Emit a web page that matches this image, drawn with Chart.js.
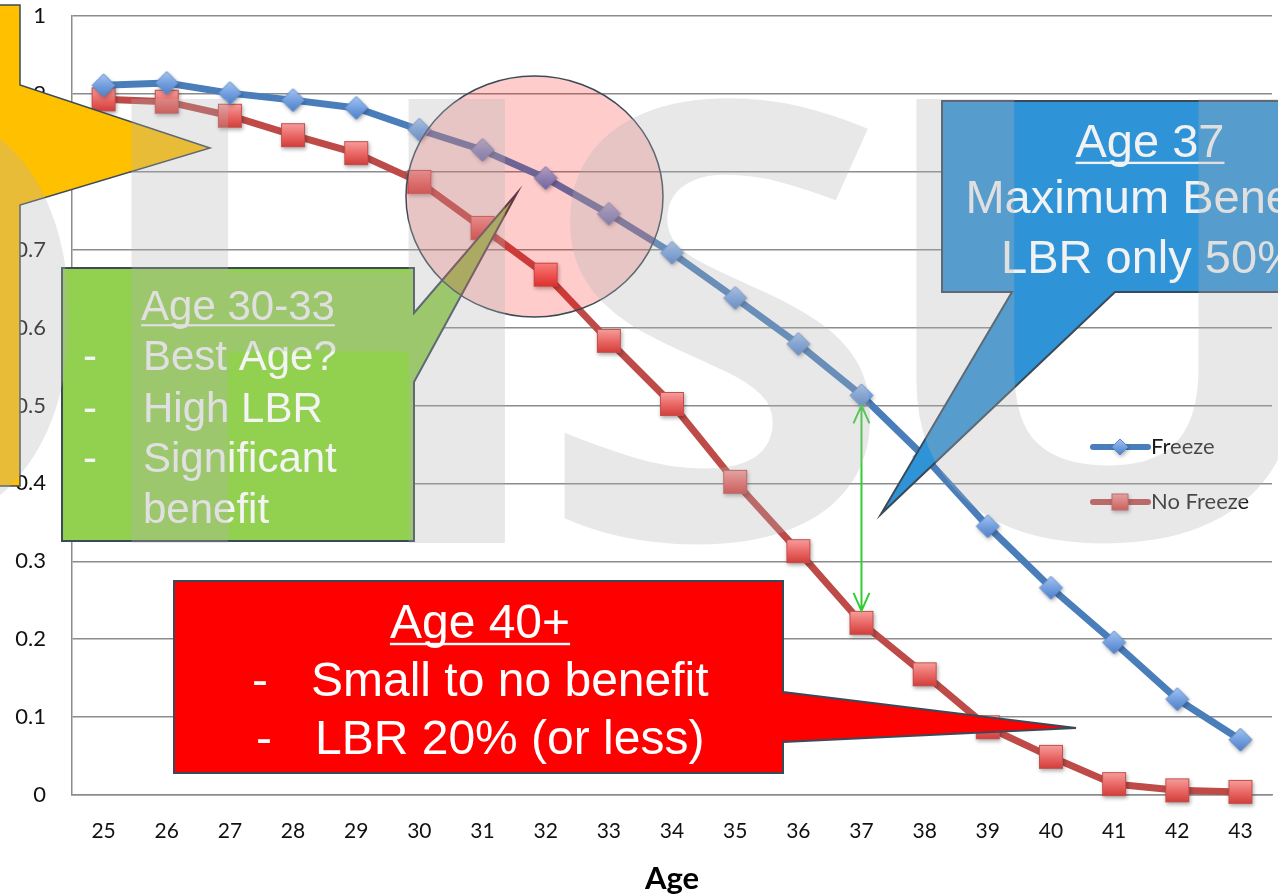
<!DOCTYPE html>
<html>
<head>
<meta charset="utf-8">
<title>Live birth rate by age</title>
<script src="https://cdn.jsdelivr.net/npm/chart.js@4/dist/chart.umd.min.js"></script>
<style>
  html, body { margin: 0; padding: 0; background: #ffffff; }
  canvas { display: block; }
</style>
</head>
<body>
<canvas id="chart" width="1278" height="894"></canvas>
<script>
// ---- data ----
const ages = ['25', '26', '27', '28', '29', '30', '31', '32', '33', '34',
              '35', '36', '37', '38', '39', '40', '41', '42', '43'];
const freeze = [0.911, 0.914, 0.901, 0.892, 0.882, 0.854, 0.828, 0.792, 0.746, 0.696,
                0.638, 0.579, 0.513, 0.434, 0.345, 0.266, 0.196, 0.123, 0.071];
const noFreeze = [0.893, 0.890, 0.872, 0.847, 0.824, 0.787, 0.728, 0.668, 0.583, 0.502,
                  0.402, 0.313, 0.221, 0.155, 0.087, 0.049, 0.014, 0.006, 0.004];
const yTickLabels = ['0', '0.1', '0.2', '0.3', '0.4', '0.5', '0.6', '0.7', '0.8', '0.9', '1'];
const seriesNames = ['Freeze', 'No Freeze'];
const highlightAge = '37';

// ---- styles ----
const BLUE = '#4a7ebb';
const RED = '#be4b48';
const GRID = '#8c8c8c';
const EDGE = '#3b4a58';
const SANS = '"Liberation Sans", Arial, sans-serif';
const AXIS_FONT = 'Lato, "Open Sans", sans-serif';

// Marker sprites with a soft drop shadow and a vertical gradient fill
function makeDiamond(r) {
  const s = Math.ceil(r * 2 + 12);
  const c = document.createElement('canvas');
  c.width = s; c.height = s;
  const g = c.getContext('2d');
  const cx = s / 2, cy = s / 2;
  g.shadowColor = 'rgba(0,0,0,0.35)';
  g.shadowBlur = 4; g.shadowOffsetX = 1; g.shadowOffsetY = 2;
  const grad = g.createLinearGradient(0, cy - r, 0, cy + r);
  grad.addColorStop(0, '#a5c4f2');
  grad.addColorStop(0.5, '#74a0e0');
  grad.addColorStop(1, '#4f7fc8');
  g.beginPath();
  g.moveTo(cx, cy - r); g.lineTo(cx + r, cy); g.lineTo(cx, cy + r); g.lineTo(cx - r, cy);
  g.closePath();
  g.fillStyle = grad; g.fill();
  g.shadowColor = 'transparent';
  g.lineWidth = 1; g.strokeStyle = '#5b88c8'; g.stroke();
  return c;
}
function makeSquare(h) {
  const s = Math.ceil(h * 2 + 12);
  const c = document.createElement('canvas');
  c.width = s; c.height = s;
  const g = c.getContext('2d');
  const cx = s / 2, cy = s / 2;
  g.shadowColor = 'rgba(0,0,0,0.35)';
  g.shadowBlur = 4; g.shadowOffsetX = 1; g.shadowOffsetY = 2;
  const grad = g.createLinearGradient(0, cy - h, 0, cy + h);
  grad.addColorStop(0, '#f7a09e');
  grad.addColorStop(0.5, '#ea6a67');
  grad.addColorStop(1, '#d23c38');
  g.fillStyle = grad;
  g.fillRect(cx - h, cy - h, 2 * h, 2 * h);
  g.shadowColor = 'transparent';
  g.lineWidth = 1; g.strokeStyle = '#c0504d';
  g.strokeRect(cx - h + 0.5, cy - h + 0.5, 2 * h - 1, 2 * h - 1);
  return c;
}
const diamondImg = makeDiamond(11.5);
const squareImg = makeSquare(12);
const diamondSmall = makeDiamond(8);
const squareSmall = makeSquare(8.5);

// ---- drawing helpers for the call-out shapes ----
function polygon(ctx, pts, fill, stroke, lw) {
  ctx.beginPath();
  ctx.moveTo(pts[0][0], pts[0][1]);
  for (let i = 1; i < pts.length; i++) ctx.lineTo(pts[i][0], pts[i][1]);
  ctx.closePath();
  ctx.fillStyle = fill; ctx.fill();
  if (stroke) { ctx.lineWidth = lw || 2; ctx.strokeStyle = stroke; ctx.lineJoin = 'miter'; ctx.stroke(); }
}
function text(ctx, str, x, y, size, align, color, underline) {
  ctx.font = size + 'px ' + SANS;
  ctx.textAlign = align;
  ctx.textBaseline = 'alphabetic';
  ctx.fillStyle = color;
  ctx.fillText(str, x, y);
  if (underline) {
    const w = ctx.measureText(str).width;
    const x0 = align === 'center' ? x - w / 2 : x;
    ctx.fillRect(x0, y + size * 0.1, w, Math.max(2, size * 0.05));
  }
}
function glyph(ctx, ch, x0, y0, x1, y1) {
  ctx.save();
  ctx.font = '700 400px "Open Sans", "DejaVu Sans", sans-serif';
  ctx.textAlign = 'left';
  ctx.textBaseline = 'alphabetic';
  const m = ctx.measureText(ch);
  const gw = m.actualBoundingBoxLeft + m.actualBoundingBoxRight;
  const gh = m.actualBoundingBoxAscent + m.actualBoundingBoxDescent;
  ctx.translate(x0, y0);
  ctx.scale((x1 - x0) / gw, (y1 - y0) / gh);
  ctx.fillText(ch, m.actualBoundingBoxLeft, m.actualBoundingBoxAscent);
  ctx.restore();
}

const overlays = {
  id: 'overlays',
  afterDraw(chart) {
    const ctx = chart.ctx;
    const xs = chart.scales.x, ys = chart.scales.y;
    ctx.save();

    // legend (inside the plot, right side)
    const legendRows = [
      { name: seriesNames[0], color: BLUE, img: diamondSmall, y: 447 },
      { name: seriesNames[1], color: RED, img: squareSmall, y: 502 }
    ];
    legendRows.forEach(r => {
      ctx.beginPath();
      ctx.moveTo(1093, r.y); ctx.lineTo(1148, r.y);
      ctx.lineWidth = 6; ctx.lineCap = 'round';
      ctx.strokeStyle = r.color; ctx.stroke();
      ctx.drawImage(r.img, 1120 - r.img.width / 2, r.y - r.img.height / 2);
      ctx.font = '22px ' + AXIS_FONT;
      ctx.textAlign = 'left'; ctx.textBaseline = 'middle';
      ctx.fillStyle = '#1a1a1a';
      ctx.fillText(r.name, 1151, r.y);
    });
    ctx.lineCap = 'butt';

    // yellow star arm on the left edge
    polygon(ctx, [[-20, 5], [20, 5], [20, 85], [210, 148], [20, 205], [20, 486], [-20, 486]],
            '#ffc000', EDGE, 1.5);

    // green call-out
    polygon(ctx, [[62, 268], [414, 268], [414, 313], [517, 193], [414, 382], [414, 541], [62, 541]],
            '#92d050', EDGE, 2);
    const gw = '#f4f4f4';
    text(ctx, 'Age 30-33', 238, 320, 42, 'center', gw, true);
    [['Best Age?', 370], ['High LBR', 422], ['Significant', 472]].forEach(([s, y]) => {
      text(ctx, '-', 83, y, 42, 'left', gw);
      text(ctx, s, 143, y, 42, 'left', gw);
    });
    text(ctx, 'benefit', 143, 523, 42, 'left', gw);

    // translucent circle around ages 30-33
    ctx.beginPath();
    ctx.ellipse(534.5, 196.5, 128.5, 120.5, 0, 0, Math.PI * 2);
    ctx.fillStyle = 'rgba(255,0,0,0.2)'; ctx.fill();
    ctx.lineWidth = 1.5; ctx.strokeStyle = EDGE; ctx.stroke();

    // blue call-out
    polygon(ctx, [[942, 101], [1360, 101], [1360, 292], [1115, 292], [881, 514], [1012, 292], [942, 292]],
            '#2e93d7', EDGE, 2);
    text(ctx, 'Age 37', 1150, 157, 47, 'center', '#f2f2f2', true);
    text(ctx, 'Maximum Benefit', 1147, 213, 47, 'center', '#f2f2f2');
    text(ctx, 'LBR only 50%', 1150, 273, 47, 'center', '#f2f2f2');

    // red call-out
    polygon(ctx, [[174, 581], [783, 581], [783, 692], [1076, 728], [783, 742], [783, 773], [174, 773]],
            '#ff0000', EDGE, 2);
    text(ctx, 'Age 40+', 480, 638, 48, 'center', '#ffffff', true);
    text(ctx, '-', 252, 696, 48, 'left', '#ffffff');
    text(ctx, 'Small to no benefit', 311, 696, 48, 'left', '#ffffff');
    text(ctx, '-', 256, 754, 48, 'left', '#ffffff');
    text(ctx, 'LBR 20% (or less)', 315, 754, 48, 'left', '#ffffff');

    // double arrow between the two series at the highlighted age
    const i = ages.indexOf(highlightAge);
    const ax = xs.getPixelForValue(i);
    const yTop = ys.getPixelForValue(freeze[i]) + 10;
    const yBot = ys.getPixelForValue(noFreeze[i]) - 12;
    ctx.strokeStyle = '#33cc33'; ctx.lineWidth = 2;
    ctx.beginPath();
    ctx.moveTo(ax, yTop); ctx.lineTo(ax, yBot);
    ctx.moveTo(ax - 8, yTop + 18); ctx.lineTo(ax, yTop); ctx.lineTo(ax + 8, yTop + 18);
    ctx.moveTo(ax - 8, yBot - 18); ctx.lineTo(ax, yBot); ctx.lineTo(ax + 8, yBot - 18);
    ctx.stroke();

    // faint "OHSU" lettering laid over everything
    ctx.fillStyle = 'rgba(178,178,178,0.3)';
    glyph(ctx, 'O', -385, 85, 77, 547);
    glyph(ctx, 'H', 124, 96, 513, 543);
    glyph(ctx, 'S', 555, 92, 873, 548);
    glyph(ctx, 'U', 912, 96, 1297, 547);

    ctx.restore();
  }
};

new Chart(document.getElementById('chart'), {
  type: 'line',
  data: {
    labels: ages,
    datasets: [
      {
        label: seriesNames[0], data: freeze,
        borderColor: BLUE, borderWidth: 7, tension: 0,
        pointStyle: diamondImg, pointRadius: 8, clip: false
      },
      {
        label: seriesNames[1], data: noFreeze,
        borderColor: RED, borderWidth: 7, tension: 0,
        pointStyle: squareImg, pointRadius: 8, clip: false
      }
    ]
  },
  options: {
    responsive: false,
    animation: false,
    devicePixelRatio: 1,
    events: [],
    layout: { autoPadding: false, padding: { top: 16, right: 6, left: 0, bottom: 0 } },
    plugins: { legend: { display: false }, tooltip: { enabled: false } },
    scales: {
      x: {
        offset: true,
        grid: { display: false, drawTicks: false },
        border: { display: true, color: GRID, width: 1.5 },
        ticks: {
          color: '#111', padding: 24, maxRotation: 0, autoSkip: false,
          font: { family: AXIS_FONT, size: 21 }
        },
        title: {
          display: true, text: 'Age', color: '#000',
          font: { family: AXIS_FONT, size: 31, weight: 'bold', lineHeight: 1 },
          padding: { top: 0, bottom: 0 }
        },
        afterFit(s) { s.height = 99; s.paddingLeft = 0; s.paddingRight = 0; }
      },
      y: {
        min: 0, max: 1,
        grid: { color: GRID, lineWidth: 1.5, drawTicks: false },
        border: { display: true, color: GRID, width: 1.5 },
        ticks: {
          stepSize: 0.1, padding: 26, color: '#111',
          font: { family: AXIS_FONT, size: 22 },
          callback: v => yTickLabels[Math.round(v * 10)]
        },
        afterFit(s) { s.width = 72; s.paddingTop = 0; s.paddingBottom = 0; }
      }
    }
  },
  plugins: [overlays]
});
</script>
</body>
</html>
